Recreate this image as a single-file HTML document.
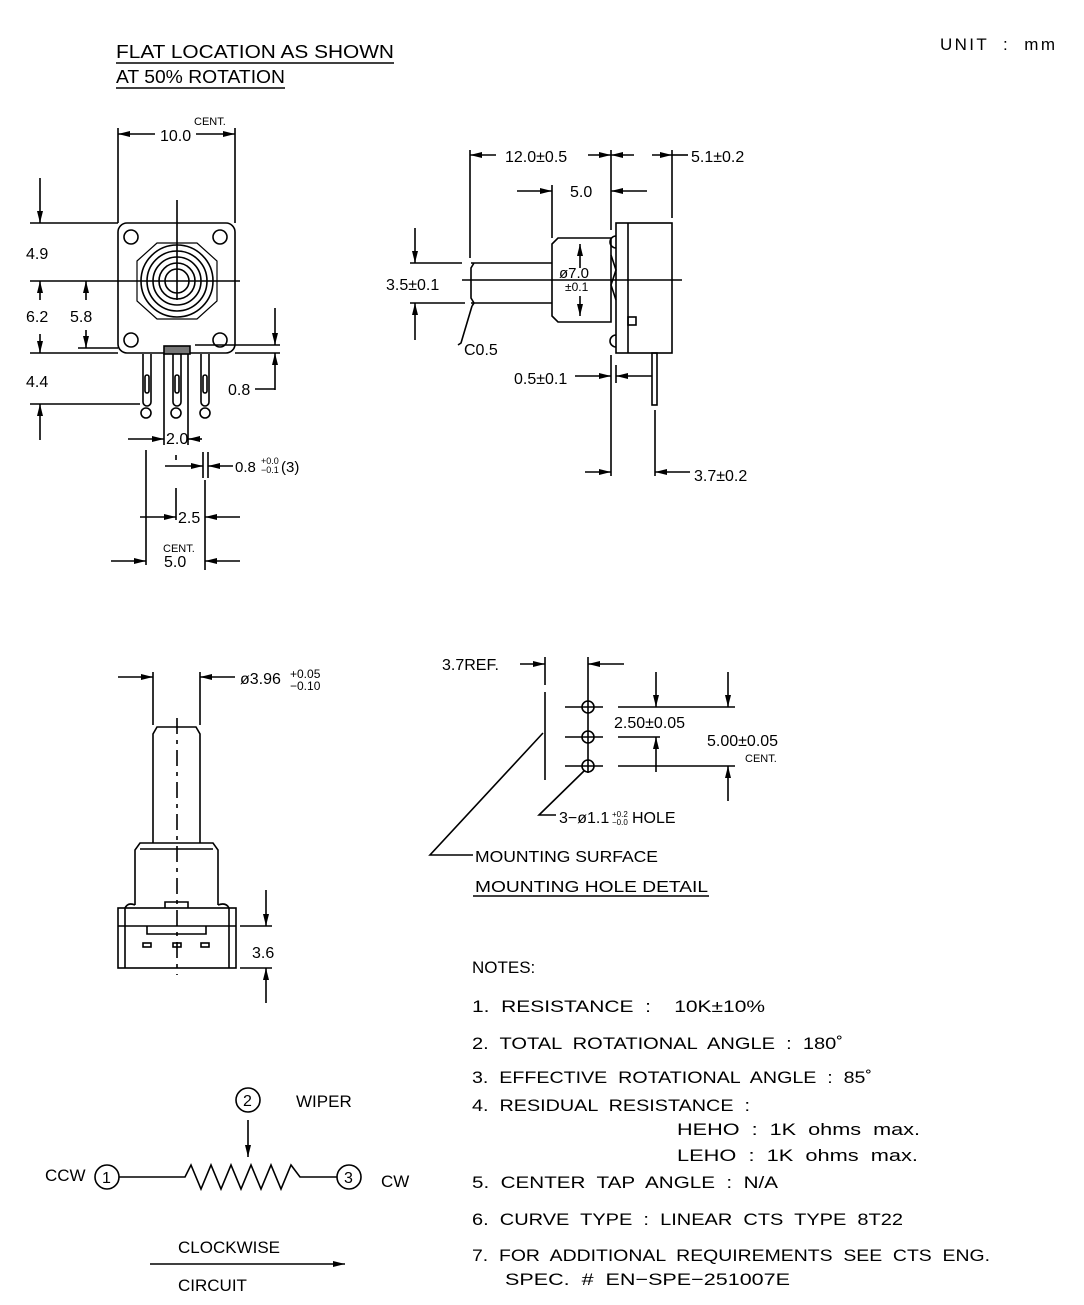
<!DOCTYPE html>
<html><head><meta charset="utf-8"><style>
html,body{margin:0;padding:0;background:#fff;}
svg{display:block;}
text{font-family:"Liberation Sans",sans-serif;fill:#000;white-space:pre;}
</style></head><body>
<svg width="1084" height="1305" viewBox="0 0 1084 1305" xmlns="http://www.w3.org/2000/svg">
<defs>
<marker id="a" viewBox="0 0 12 6" refX="12" refY="3" markerWidth="12" markerHeight="6" markerUnits="userSpaceOnUse" orient="auto"><path d="M0,0L12,3L0,6z" fill="#000"/></marker>
</defs>
<g stroke="#000" stroke-width="1.6" fill="none">
<line x1="116" y1="63" x2="394" y2="63"/>
<line x1="116" y1="88" x2="285" y2="88"/>

<rect x="118" y="223" width="117" height="130" rx="9"/>
<circle cx="131" cy="237" r="7"/><circle cx="220" cy="237" r="7"/>
<circle cx="131" cy="340" r="7"/><circle cx="220" cy="340" r="7"/>
<path d="M137,261 L157,243 L197,243 L217,261 L217,301 L197,319 L157,319 L137,301Z" stroke-width="1.2"/>
<circle cx="177" cy="281" r="36"/><circle cx="177" cy="281" r="30"/><circle cx="177" cy="281" r="24"/><circle cx="177" cy="281" r="18"/><circle cx="177" cy="281" r="12"/>
<line x1="177" y1="200" x2="177" y2="300"/>
<line x1="30" y1="281" x2="240" y2="281"/>
<line x1="30" y1="223" x2="118" y2="223"/>
<line x1="30" y1="353" x2="118" y2="353"/>
<line x1="78" y1="348" x2="118" y2="348"/>
<line x1="195" y1="345" x2="280" y2="345"/>
<line x1="235" y1="353" x2="280" y2="353"/>
<rect x="164" y="346" width="26" height="8" fill="#777"/>
<path d="M143,354 V402 a4,4 0 0 0 8,0 V354"/>
<path d="M173,354 V402 a4,4 0 0 0 8,0 V354"/>
<path d="M201,354 V402 a4,4 0 0 0 8,0 V354"/>
<rect x="145" y="375" width="4" height="18" rx="2"/><rect x="175" y="375" width="4" height="18" rx="2"/><rect x="203" y="375" width="4" height="18" rx="2"/>
<line x1="164" y1="354" x2="164" y2="445"/><line x1="188" y1="354" x2="188" y2="445"/>
<line x1="30" y1="404" x2="140" y2="404"/>
<circle cx="146" cy="413" r="5"/><circle cx="176" cy="413" r="5"/><circle cx="205" cy="413" r="5"/>
<line x1="40" y1="178" x2="40" y2="223" marker-end="url(#a)"/>
<line x1="40" y1="300" x2="40" y2="281" marker-end="url(#a)"/>
<line x1="40" y1="334" x2="40" y2="353" marker-end="url(#a)"/>
<line x1="86" y1="300" x2="86" y2="281" marker-end="url(#a)"/>
<line x1="86" y1="330" x2="86" y2="348" marker-end="url(#a)"/>
<line x1="40" y1="440" x2="40" y2="404" marker-end="url(#a)"/>
<line x1="118" y1="128" x2="118" y2="223"/><line x1="235" y1="128" x2="235" y2="223"/>
<line x1="155" y1="134" x2="118" y2="134" marker-end="url(#a)"/>
<line x1="196" y1="134" x2="235" y2="134" marker-end="url(#a)"/>
<line x1="275" y1="308" x2="275" y2="345" marker-end="url(#a)"/>
<line x1="275" y1="390" x2="275" y2="353" marker-end="url(#a)"/>
<line x1="255" y1="389" x2="275" y2="389"/>
<line x1="146" y1="450" x2="146" y2="565"/>
<line x1="176" y1="455" x2="176" y2="462" stroke-dasharray="5 4"/>
<line x1="176" y1="488" x2="176" y2="520"/>
<line x1="203" y1="452" x2="203" y2="478"/>
<line x1="208" y1="452" x2="208" y2="478"/>
<line x1="205" y1="480" x2="205" y2="570"/>
<line x1="128" y1="439" x2="164" y2="439" marker-end="url(#a)"/>
<line x1="202" y1="439" x2="188" y2="439" marker-end="url(#a)"/>
<line x1="165" y1="466" x2="203" y2="466" marker-end="url(#a)"/>
<line x1="233" y1="466" x2="208" y2="466" marker-end="url(#a)"/>
<line x1="140" y1="517" x2="176" y2="517" marker-end="url(#a)"/>
<line x1="240" y1="517" x2="205" y2="517" marker-end="url(#a)"/>
<line x1="111" y1="561" x2="146" y2="561" marker-end="url(#a)"/>
<line x1="240" y1="561" x2="205" y2="561" marker-end="url(#a)"/>

<path d="M471,263 H552 M471,303 H552 M474,263 L471,268 V298 L474,303"/>
<path d="M558,238 H611 V322 H558 L552,316 V244 Z"/>
<rect x="616" y="223" width="56" height="130"/>
<line x1="628" y1="223" x2="628" y2="353"/>
<path d="M616,236 a5,5 0 0 0 0,12 M616,335 a5,5 0 0 0 0,12 M611,255 L616,270 L611,285 L616,300"/>
<rect x="628" y="317" width="8" height="8"/>
<rect x="652" y="353" width="5" height="52"/>
<line x1="462" y1="280" x2="682" y2="280"/>
<line x1="470" y1="150" x2="470" y2="258"/>
<line x1="611" y1="150" x2="611" y2="230"/><line x1="611" y1="355" x2="611" y2="476"/>
<line x1="672" y1="150" x2="672" y2="218"/>
<line x1="496" y1="155" x2="470" y2="155" marker-end="url(#a)"/>
<line x1="588" y1="155" x2="611" y2="155" marker-end="url(#a)"/>
<line x1="634" y1="155" x2="611" y2="155" marker-end="url(#a)"/>
<line x1="652" y1="155" x2="672" y2="155" marker-end="url(#a)"/>
<line x1="672" y1="155" x2="688" y2="155"/>
<line x1="552" y1="185" x2="552" y2="238"/>
<line x1="517" y1="191" x2="552" y2="191" marker-end="url(#a)"/>
<line x1="647" y1="191" x2="611" y2="191" marker-end="url(#a)"/>
<line x1="410" y1="263" x2="462" y2="263"/><line x1="410" y1="303" x2="465" y2="303"/>
<line x1="415" y1="228" x2="415" y2="263" marker-end="url(#a)"/>
<line x1="415" y1="340" x2="415" y2="303" marker-end="url(#a)"/>
<line x1="580" y1="268" x2="580" y2="244" marker-end="url(#a)"/>
<line x1="580" y1="296" x2="580" y2="316" marker-end="url(#a)"/>
<path d="M458,345 L461,343 L472,306" />
<line x1="472" y1="306" x2="474" y2="303"/>
<line x1="616" y1="365" x2="616" y2="383"/>
<line x1="575" y1="376" x2="611" y2="376" marker-end="url(#a)"/>
<line x1="652" y1="376" x2="616" y2="376" marker-end="url(#a)"/>
<line x1="655" y1="410" x2="655" y2="476"/>
<line x1="585" y1="472" x2="611" y2="472" marker-end="url(#a)"/>
<line x1="690" y1="472" x2="655" y2="472" marker-end="url(#a)"/>

<path d="M153,843 V734 L157,727 H196 L200,734 V843"/>
<path d="M135,905 V850 L140,843 H213 L218,850 V905"/>
<line x1="140" y1="849" x2="213" y2="849"/>
<rect x="118" y="908" width="118" height="60"/>
<line x1="125" y1="908" x2="125" y2="968"/><line x1="229" y1="908" x2="229" y2="968"/>
<line x1="118" y1="926" x2="236" y2="926"/>
<path d="M125,908 Q128,902 135,905 M229,908 Q226,902 218,905 M165,908 V902 H188 V908"/>
<path d="M147,926 V934 H206 V926"/>
<rect x="143" y="943" width="8" height="4"/><rect x="173" y="943" width="8" height="4"/><rect x="201" y="943" width="8" height="4"/>
<line x1="177" y1="718" x2="177" y2="975" stroke-dasharray="16 6 4 6"/>
<line x1="153" y1="672" x2="153" y2="725"/><line x1="200" y1="672" x2="200" y2="725"/>
<line x1="118" y1="677" x2="153" y2="677" marker-end="url(#a)"/>
<line x1="235" y1="677" x2="200" y2="677" marker-end="url(#a)"/>
<line x1="240" y1="926" x2="272" y2="926"/><line x1="240" y1="968" x2="272" y2="968"/>
<line x1="266" y1="890" x2="266" y2="926" marker-end="url(#a)"/>
<line x1="266" y1="1003" x2="266" y2="968" marker-end="url(#a)"/>

<line x1="520" y1="664" x2="545" y2="664" marker-end="url(#a)"/>
<line x1="624" y1="664" x2="588" y2="664" marker-end="url(#a)"/>
<line x1="545" y1="657" x2="545" y2="685"/><line x1="545" y1="692" x2="545" y2="780"/>
<line x1="588" y1="657" x2="588" y2="773"/>
<circle cx="588" cy="707" r="6"/><circle cx="588" cy="737" r="6"/><circle cx="588" cy="766" r="6"/>
<line x1="565" y1="707" x2="603" y2="707"/><line x1="565" y1="737" x2="603" y2="737"/><line x1="565" y1="766" x2="603" y2="766"/>
<line x1="618" y1="707" x2="735" y2="707"/><line x1="618" y1="737" x2="660" y2="737"/><line x1="618" y1="766" x2="735" y2="766"/>
<line x1="656" y1="672" x2="656" y2="707" marker-end="url(#a)"/>
<line x1="656" y1="772" x2="656" y2="737" marker-end="url(#a)"/>
<line x1="728" y1="672" x2="728" y2="707" marker-end="url(#a)"/>
<line x1="728" y1="801" x2="728" y2="766" marker-end="url(#a)"/>
<path d="M584,771 L539,815 H556"/>
<path d="M543,733 L430,855 H473"/>
<line x1="473" y1="896" x2="709" y2="896"/>

<circle cx="107" cy="1177" r="12"/>
<circle cx="349" cy="1177" r="12"/>
<circle cx="248" cy="1100" r="12"/>
<path d="M119,1177 H185 L191,1165 L201,1189 L211,1165 L221,1189 L231,1165 L241,1189 L251,1165 L261,1189 L271,1165 L281,1189 L291,1165 L300,1177 H337"/>
<line x1="248" y1="1120" x2="248" y2="1157" marker-end="url(#a)"/>
<line x1="150" y1="1264" x2="345" y2="1264" marker-end="url(#a)"/>
</g>

<g font-size="18">
<text x="116" y="58" textLength="278" lengthAdjust="spacingAndGlyphs">FLAT LOCATION AS SHOWN</text>
<text x="116" y="83" textLength="169" lengthAdjust="spacingAndGlyphs">AT 50% ROTATION</text>
<text x="940" y="50" font-size="17" textLength="115" lengthAdjust="spacing">UNIT  :  mm</text>

<text x="160" y="141" font-size="16">10.0</text>
<text x="194" y="125" font-size="11">CENT.</text>
<text x="26" y="259" font-size="16">4.9</text>
<text x="26" y="322" font-size="16">6.2</text>
<text x="70" y="322" font-size="16">5.8</text>
<text x="26" y="387" font-size="16">4.4</text>
<text x="228" y="395" font-size="16">0.8</text>
<text x="166" y="444" font-size="16">2.0</text>
<text x="235" y="472" font-size="15">0.8</text>
<text x="261" y="464" font-size="9">+0.0</text>
<text x="261" y="473" font-size="9">−0.1</text>
<text x="281" y="472" font-size="15">(3)</text>
<text x="178" y="523" font-size="16">2.5</text>
<text x="163" y="552" font-size="11">CENT.</text>
<text x="164" y="567" font-size="16">5.0</text>

<text x="505" y="162" font-size="16">12.0±0.5</text>
<text x="691" y="162" font-size="16">5.1±0.2</text>
<text x="570" y="197" font-size="16">5.0</text>
<text x="386" y="290" font-size="16">3.5±0.1</text>
<text x="559" y="278" font-size="15">ø7.0</text>
<text x="565" y="291" font-size="12">±0.1</text>
<text x="464" y="355" font-size="16">C0.5</text>
<text x="514" y="384" font-size="16">0.5±0.1</text>
<text x="694" y="481" font-size="16">3.7±0.2</text>

<text x="240" y="684" font-size="16">ø3.96</text>
<text x="290" y="678" font-size="12">+0.05</text>
<text x="290" y="690" font-size="12">−0.10</text>
<text x="252" y="958" font-size="16">3.6</text>

<text x="442" y="670" font-size="16">3.7REF.</text>
<text x="614" y="728" font-size="16">2.50±0.05</text>
<text x="707" y="746" font-size="16">5.00±0.05</text>
<text x="745" y="762" font-size="11">CENT.</text>
<text x="559" y="823" font-size="16">3−ø1.1</text>
<text x="612" y="817" font-size="8">+0.2</text>
<text x="612" y="825" font-size="8">−0.0</text>
<text x="632" y="823" font-size="16">HOLE</text>
<text x="475" y="862" font-size="16" textLength="183" lengthAdjust="spacingAndGlyphs">MOUNTING SURFACE</text>
<text x="475" y="892" font-size="16" textLength="233" lengthAdjust="spacingAndGlyphs">MOUNTING HOLE DETAIL</text>

<text x="45" y="1181" font-size="17">CCW</text>
<text x="102" y="1183" font-size="16">1</text>
<text x="344" y="1183" font-size="16">3</text>
<text x="243" y="1106" font-size="16">2</text>
<text x="296" y="1107" font-size="17">WIPER</text>
<text x="381" y="1187" font-size="17">CW</text>
<text x="178" y="1253" font-size="17">CLOCKWISE</text>
<text x="178" y="1291" font-size="17">CIRCUIT</text>

<g font-size="17">
<text x="472" y="973">NOTES:</text>
<text x="472" y="1012" textLength="293" lengthAdjust="spacingAndGlyphs">1.  RESISTANCE  :    10K±10%</text>
<text x="472" y="1049" textLength="371" lengthAdjust="spacingAndGlyphs">2.  TOTAL  ROTATIONAL  ANGLE  :  180˚</text>
<text x="472" y="1083" textLength="400" lengthAdjust="spacingAndGlyphs">3.  EFFECTIVE  ROTATIONAL  ANGLE  :  85˚</text>
<text x="472" y="1111" textLength="278" lengthAdjust="spacingAndGlyphs">4.  RESIDUAL  RESISTANCE  :</text>
<text x="677" y="1135" textLength="243" lengthAdjust="spacingAndGlyphs">HEHO  :  1K  ohms  max.</text>
<text x="677" y="1161" textLength="241" lengthAdjust="spacingAndGlyphs">LEHO  :  1K  ohms  max.</text>
<text x="472" y="1188" textLength="306" lengthAdjust="spacingAndGlyphs">5.  CENTER  TAP  ANGLE  :  N/A</text>
<text x="472" y="1225" textLength="431" lengthAdjust="spacingAndGlyphs">6.  CURVE  TYPE  :  LINEAR  CTS  TYPE  8T22</text>
<text x="472" y="1261" textLength="518" lengthAdjust="spacingAndGlyphs">7.  FOR  ADDITIONAL  REQUIREMENTS  SEE  CTS  ENG.</text>
<text x="505" y="1285" textLength="285" lengthAdjust="spacingAndGlyphs">SPEC.  #  EN−SPE−251007E</text>
</g>
</g>
</svg>
</body></html>
